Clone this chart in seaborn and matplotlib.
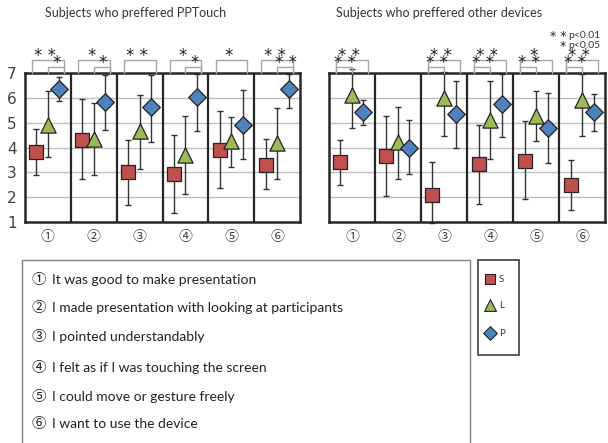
import numpy as np
import pandas as pd
import matplotlib
matplotlib.use("Agg")
import matplotlib.pyplot as plt
import seaborn as sns
from matplotlib.patches import Rectangle

sns.set_theme(style="white")
plt.rcParams['font.family'] = ['Lato', 'Noto Sans CJK JP', 'DejaVu Sans']
CJK = ['Noto Sans CJK JP', 'DejaVu Sans']

# ---- data ----
questions = ["①", "②", "③", "④", "⑤", "⑥"]
statements = [
    "It was good to make presentation",
    "I made presentation with looking at participants",
    "I pointed understandably",
    "I felt as if I was touching the screen",
    "I could move or gesture freely",
    "I want to use the device",
]
conditions = ["S", "L", "P"]

# subjects who preferred PPTouch: mean, upper end, lower end
pp_S = [3.82, 4.32, 3.00, 2.95, 3.91, 3.30]
pp_S_hi = [4.76, 5.95, 4.30, 4.49, 5.48, 4.34]
pp_S_lo = [2.89, 2.73, 1.67, 1.36, 2.37, 2.33]
pp_L = [4.92, 4.34, 4.65, 3.71, 4.25, 4.18]
pp_L_hi = [6.26, 5.79, 6.10, 5.26, 5.23, 5.59]
pp_L_lo = [3.60, 2.88, 3.13, 2.13, 3.21, 2.73]
pp_P = [6.36, 5.82, 5.62, 6.02, 4.91, 6.36]
pp_P_hi = [6.83, 6.91, 6.91, 6.97, 6.33, 6.97]
pp_P_lo = [5.89, 4.72, 4.22, 4.65, 3.54, 5.59]

# subjects who preferred other devices
ot_S = [3.40, 3.64, 2.07, 3.34, 3.47, 2.48]
ot_S_hi = [4.32, 5.26, 3.42, 4.92, 5.05, 3.48]
ot_S_lo = [2.49, 2.06, 0.96, 1.74, 1.93, 1.47]
ot_L = [6.11, 4.22, 5.99, 5.12, 5.28, 5.90]
ot_L_hi = [7.15, 5.63, 7.05, 6.66, 6.26, 6.97]
ot_L_lo = [4.79, 2.73, 4.48, 3.54, 4.25, 4.45]
ot_P = [5.42, 4.00, 5.35, 5.77, 4.79, 5.43]
ot_P_hi = [5.93, 5.12, 6.66, 6.97, 6.20, 6.15]
ot_P_lo = [4.92, 2.93, 4.00, 4.41, 3.38, 4.68]

# significance marks: (question index, pair, label, level)
pp_sig = [(0, "SP", "**", 2), (0, "LP", "*", 1),
          (1, "SP", "*", 2), (1, "LP", "*", 1),
          (2, "SP", "**", 2),
          (3, "SP", "*", 2), (3, "LP", "*", 1),
          (4, "SP", "*", 2),
          (5, "SP", "**", 2), (5, "LP", "**", 1)]
ot_sig = [(0, "SP", "**", 2), (0, "SL", "**", 1),
          (2, "SP", "**", 2), (2, "SL", "**", 1),
          (3, "SP", "**", 2), (3, "SL", "**", 1),
          (4, "SP", "*", 2), (4, "SL", "**", 1),
          (5, "SP", "**", 2), (5, "SL", "**", 1)]

colors = {"S": "#C0504D", "L": "#9BBB59", "P": "#4F81BD"}
markers = {"S": "s", "L": "^", "P": "D"}
sizes = {"S": 90, "L": 120, "P": 80}
offsets = {"S": -0.25, "L": 0.0, "P": 0.25}


def make_frame(vals):
    rows = []
    for cond, (m, hi, lo) in vals.items():
        for i, q in enumerate(questions):
            rows.append({"q": i + 1, "cond": cond, "mean": m[i], "hi": hi[i], "lo": lo[i]})
    df = pd.DataFrame(rows)
    df["x"] = df["q"] + df["cond"].map(offsets)
    return df


df_pp = make_frame({"S": (pp_S, pp_S_hi, pp_S_lo),
                    "L": (pp_L, pp_L_hi, pp_L_lo),
                    "P": (pp_P, pp_P_hi, pp_P_lo)})
df_ot = make_frame({"S": (ot_S, ot_S_hi, ot_S_lo),
                    "L": (ot_L, ot_L_hi, ot_L_lo),
                    "P": (ot_P, ot_P_hi, ot_P_lo)})


def draw_panel(ax, df, sig, show_y):
    ax.set_xlim(0.5, 6.5)
    ax.set_ylim(1, 7)
    for y in range(2, 7):
        ax.axhline(y, color="#bfbfbf", lw=1, zorder=0)
    for x in np.arange(1.5, 6.5, 1):
        ax.axvline(x, color="#262626", lw=1.6, zorder=1)
    for cond in conditions:
        d = df[df["cond"] == cond]
        ax.errorbar(d["x"], d["mean"], yerr=[d["mean"] - d["lo"], d["hi"] - d["mean"]],
                    fmt="none", ecolor="#333333", elinewidth=1, capsize=2.5,
                    capthick=1, zorder=2, clip_on=False)
    for cond in conditions:
        d = df[df["cond"] == cond]
        sns.scatterplot(data=d, x="x", y="mean", ax=ax, marker=markers[cond],
                        color=colors[cond], s=sizes[cond], edgecolor="#222222",
                        linewidth=0.9, zorder=3, legend=False, clip_on=False)
    # significance brackets above the columns
    for q, pair, label, level in sig:
        a, b = pair[0], pair[1]
        x0 = q + 1 + offsets[a] - 0.09
        x1 = q + 1 + offsets[b] + 0.1
        if a == "S" and b == "L":
            x1 = q + 1 + offsets[b]
        if a == "L":
            x0 = q + 1 + offsets[a]
        ytop = 7.52 if level == 2 else 7.24
        ax.plot([x0, x0, x1, x1], [7.0, ytop, ytop, 7.0], color="#a6a6a6",
                lw=1, clip_on=False, zorder=4)
        xt = (x0 + x1) / 2 + (-0.06 if level == 2 else 0.02)
        ax.text(xt, ytop - 0.2, label.replace("**", "* *"), ha="center", va="bottom",
                fontsize=12, color="#222222", family="DejaVu Sans", zorder=5)
    ax.set_xticks(range(1, 7))
    ax.set_xticklabels(questions, fontsize=10, color="#404040", family=CJK)
    ax.tick_params(axis="x", length=0, pad=6)
    ax.set_yticks(range(1, 8))
    if show_y:
        ax.set_yticklabels([str(v) for v in range(1, 8)], fontsize=11, color="#404040",
                           family="DejaVu Sans")
        ax.tick_params(axis="y", length=0, pad=6)
    else:
        ax.tick_params(axis="y", length=0, labelleft=False)
    ax.set_xlabel("")
    ax.set_ylabel("")
    for s in ax.spines.values():
        s.set_color("#262626")
        s.set_linewidth(1.8)


fig = plt.figure(figsize=(6.08, 4.43), dpi=100)
ax1 = fig.add_axes([25 / 608, 1 - 222 / 443, 275 / 608, 149 / 443])
ax2 = fig.add_axes([329 / 608, 1 - 222 / 443, 276 / 608, 149 / 443])
draw_panel(ax1, df_pp, pp_sig, True)
draw_panel(ax2, df_ot, ot_sig, False)

# overlay in pixel units for titles, text box and legend
ov = fig.add_axes([0, 0, 1, 1], zorder=-1)
ov.set_xlim(0, 608)
ov.set_ylim(443, 0)
ov.axis("off")
ov.text(45, 13, "Subjects who preffered PPTouch", fontsize=9, va="center", color="#333333")
ov.text(336, 13, "Subjects who preffered other devices", fontsize=9, va="center", color="#333333")
ov.text(566, 36, "* *", fontsize=9, va="center", ha="right", family="DejaVu Sans", color="#222222")
ov.text(568, 35, "p<0.01", fontsize=7.5, va="center", color="#333333")
ov.text(566, 46, "*", fontsize=9, va="center", ha="right", family="DejaVu Sans", color="#222222")
ov.text(568, 45, "p<0.05", fontsize=7.5, va="center", color="#333333")

ov.add_patch(Rectangle((22, 260), 448, 190, fill=False, edgecolor="#808080", lw=1))
line_y = [280, 308, 337, 368, 397, 424]
for num, txt, y in zip(questions, statements, line_y):
    ov.text(32, y, num, fontsize=10.5, va="center", color="#222222", family=CJK)
    ov.text(52, y, txt, fontsize=10, va="center", color="#222222")

ov.add_patch(Rectangle((478, 260), 41, 95, fill=False, edgecolor="#404040", lw=1.2))
leg_y = [279, 305, 333]
for cond, y in zip(conditions, leg_y):
    ov.scatter([490], [y], marker=markers[cond], s=sizes[cond] * 0.6, color=colors[cond],
               edgecolor="#222222", linewidth=0.8)
    ov.text(499, y + 1, cond, fontsize=7, va="center", color="#333333")

fig.savefig("out.png", dpi=100)
